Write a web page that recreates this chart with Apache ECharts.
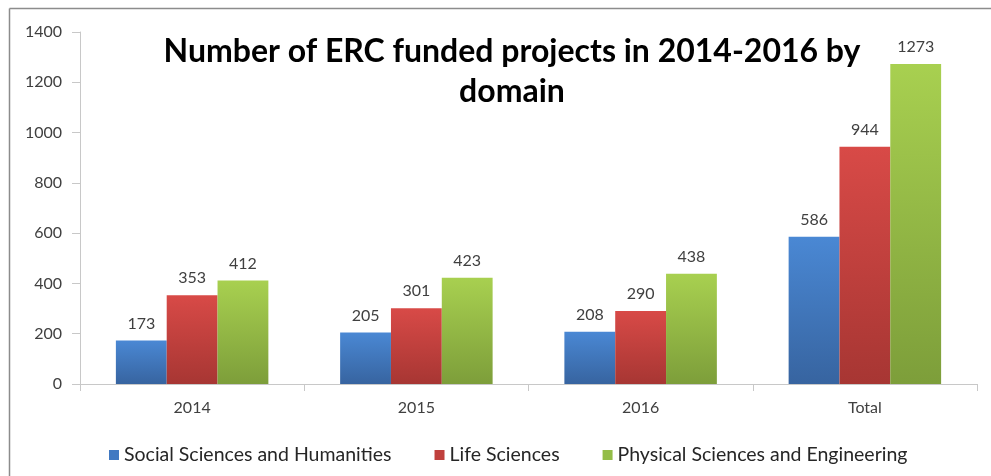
<!DOCTYPE html>
<html>
<head>
<meta charset="utf-8">
<script src="https://cdn.jsdelivr.net/npm/echarts@6/dist/echarts.min.js"></script>
<style>
  html, body { margin: 0; padding: 0; background: #fff; }
  #chart { width: 991px; height: 476px; }
</style>
</head>
<body>
<div id="chart"></div>
<script>
// data
var categories = ["2014", "2015", "2016", "Total"];
var socialSciences = [173, 205, 208, 586];
var lifeSciences = [353, 301, 290, 944];
var physicalSciences = [412, 423, 438, 1273];
var seriesNames = ["Social Sciences and Humanities", "Life Sciences", "Physical Sciences and Engineering"];

var chart = echarts.init(document.getElementById("chart"));

function grad(top, bottom) {
  return new echarts.graphic.LinearGradient(0, 0, 0, 1, [
    { offset: 0, color: top },
    { offset: 1, color: bottom }
  ]);
}

var labelStyle = {
  show: true,
  position: "top",
  distance: 9,
  color: "#404040",
  fontSize: 16,
  fontFamily: "Lato"
};

var option = {
  backgroundColor: "#fff",
  animation: false,
  title: {
    text: "Number of ERC funded projects in 2014-2016 by\ndomain",
    left: 507,
    top: 27,
    textAlign: "center",
    textStyle: {
      fontFamily: "Lato",
      fontWeight: "bold",
      fontSize: 32,
      lineHeight: 40,
      color: "#000"
    }
  },
  legend: {
    left: 104,
    top: 440,
    itemWidth: 10,
    itemHeight: 10,
    itemGap: 43,
    icon: "rect",
    textStyle: { fontFamily: "Lato", fontSize: 19.5, color: "#262626" },
    data: [
      { name: seriesNames[0], itemStyle: { color: "#4179c2" } },
      { name: seriesNames[1], itemStyle: { color: "#c0403d" } },
      { name: seriesNames[2], itemStyle: { color: "#94bd48" } }
    ]
  },
  grid: { left: 80, right: 14, top: 32, bottom: 92 },
  xAxis: {
    type: "category",
    data: categories,
    axisLine: { lineStyle: { color: "#c8c8c8", width: 1 } },
    axisTick: { show: true, length: 7, lineStyle: { color: "#c8c8c8" } },
    axisLabel: { color: "#404040", fontSize: 16, fontFamily: "Lato", margin: 16 }
  },
  yAxis: {
    type: "value",
    min: 0,
    max: 1400,
    interval: 200,
    axisLine: { show: true, lineStyle: { color: "#c8c8c8" } },
    axisTick: { show: true, length: 8, lineStyle: { color: "#c8c8c8" } },
    splitLine: { show: false },
    axisLabel: {
      color: "#404040", fontSize: 16, fontFamily: "Lato", margin: 18,
      formatter: function (v) { return String(v); }
    }
  },
  series: [
    {
      name: seriesNames[0],
      type: "bar",
      data: socialSciences,
      barGap: "0%",
      barCategoryGap: "32%",
      itemStyle: { color: grad("#4a88d4", "#3764a0") },
      label: labelStyle
    },
    {
      name: seriesNames[1],
      type: "bar",
      data: lifeSciences,
      itemStyle: { color: grad("#d84a47", "#a73633") },
      label: labelStyle
    },
    {
      name: seriesNames[2],
      type: "bar",
      data: physicalSciences,
      itemStyle: { color: grad("#a8d050", "#7d9e3a") },
      label: labelStyle
    }
  ],
  graphic: [
    { type: "line", shape: { x1: 9.5, y1: 8.5, x2: 991, y2: 8.5 }, style: { stroke: "#8c8c8c", lineWidth: 1.5 } },
    { type: "line", shape: { x1: 9.5, y1: 8.5, x2: 9.5, y2: 476 }, style: { stroke: "#8c8c8c", lineWidth: 1.5 } }
  ]
};

chart.setOption(option);
</script>
</body>
</html>
